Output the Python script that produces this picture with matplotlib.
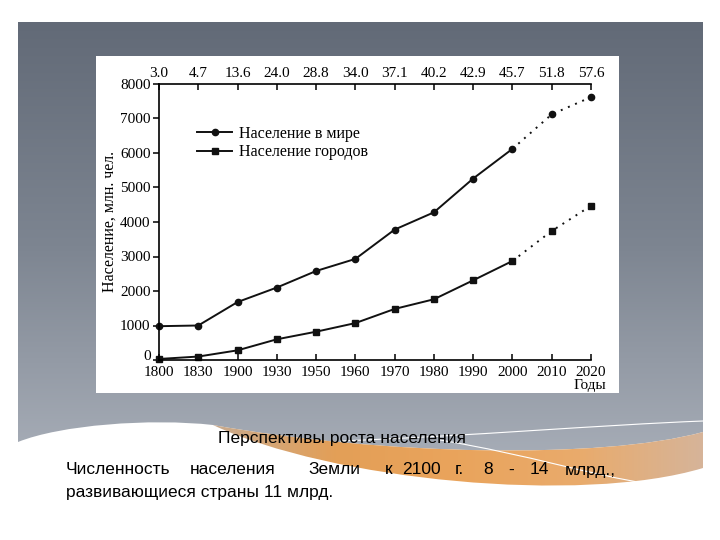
import numpy as np
import matplotlib.pyplot as plt
from matplotlib.patches import Rectangle, PathPatch
from matplotlib.path import Path
from matplotlib.colors import LinearSegmentedColormap

years = ['1800', '1830', '1900', '1930', '1950', '1960', '1970', '1980', '1990', '2000', '2010', '2020']
urban_share = ['3.0', '4.7', '13.6', '24.0', '28.8', '34.0', '37.1', '40.2', '42.9', '45.7', '51.8', '57.6']
world_pop = [980, 1000, 1680, 2100, 2580, 2930, 3780, 4280, 5260, 6120, 7120, 7620]
urban_pop = [30, 100, 280, 600, 820, 1070, 1480, 1760, 2310, 2870, 3740, 4470]
n_fact = 10  # 1800-2000 факт, дальше прогноз (пунктир)

serif = ['Liberation Serif', 'DejaVu Serif']
sans = ['Liberation Sans', 'DejaVu Sans']

fig = plt.figure(figsize=(7.2, 5.4), dpi=100)

# фон слайда (в пикселях)
bg = fig.add_axes([0, 0, 1, 1], zorder=0)
bg.set_xlim(0, 720)
bg.set_ylim(540, 0)
bg.axis('off')

M, C, L, Z = Path.MOVETO, Path.CURVE4, Path.LINETO, Path.CLOSEPOLY
grey_path = Path([(18, 22), (703, 22), (703, 432),
                  (600, 460), (380, 455), (213, 425),
                  (150, 418), (60, 425), (18, 442),
                  (18, 22)],
                 [M, L, L, C, C, C, C, C, C, Z])
grey_cmap = LinearSegmentedColormap.from_list('g', ['#626a77', '#7d8591', '#a9afb9'])
im = bg.imshow(np.linspace(0, 1, 256).reshape(-1, 1), cmap=grey_cmap,
               extent=[18, 703, 470, 22], aspect='auto', zorder=1)
gp = PathPatch(grey_path, fc='none', ec='none')
bg.add_patch(gp)
im.set_clip_path(gp)

orange_path = Path([(213, 425), (380, 455), (600, 460), (703, 432),
                    (703, 468), (580, 505), (330, 480), (213, 425), (213, 425)],
                   [M, C, C, C, L, C, C, C, Z])
orange_cmap = LinearSegmentedColormap.from_list(
    'o', ['#c9ab8f', '#e39f57', '#eaa45c', '#e9ab6c', '#d6b499'])
im2 = bg.imshow(np.linspace(0, 1, 256).reshape(1, -1), cmap=orange_cmap,
                extent=[213, 703, 505, 420], aspect='auto', zorder=2)
op = PathPatch(orange_path, fc='none', ec='none')
bg.add_patch(op)
im2.set_clip_path(op)

# тонкие белые линии на волне
bg.add_patch(PathPatch(Path([(340, 441), (470, 436), (600, 425), (703, 421)], [M, C, C, C]),
                       fc='none', ec='white', lw=0.8, zorder=3))
bg.add_patch(PathPatch(Path([(440, 440), (530, 455), (590, 475), (650, 484)], [M, C, C, C]),
                       fc='none', ec='white', lw=0.8, zorder=3))

bg.add_patch(Rectangle((96, 56), 523, 337, fc='white', ec='none', zorder=4))

bg.text(342, 438, 'Перспективы роста населения', family=sans, fontsize=12.5,
        ha='center', va='center', zorder=5)
words = ['Численность', 'населения', 'Земли', 'к', '2100', 'г.', '8', '-', '14', 'млрд.,']
word_x = [66, 190, 308, 385, 402, 455, 483, 508, 530, 565]
for w, wx in zip(words, word_x):
    bg.text(wx, 470, w, family=sans, fontsize=12.5, ha='left', va='center', zorder=5)
bg.text(66, 493, 'развивающиеся страны 11 млрд.', family=sans, fontsize=12.5,
        ha='left', va='center', zorder=5)

# график
ax = fig.add_axes([159 / 720, 1 - 360 / 540, 432 / 720, 276 / 540], zorder=2)
ax.patch.set_alpha(0)
x = np.arange(len(years))

ax.plot(x[:n_fact], world_pop[:n_fact], color='#111111', lw=1.4, marker='o', ms=4.5, clip_on=False)
ax.plot(x[n_fact - 1:], world_pop[n_fact - 1:], color='#111111', lw=1.4, ls=(0, (1, 3)),
        marker='o', ms=4.5, markevery=[1, 2], clip_on=False)
ax.plot(x[:n_fact], urban_pop[:n_fact], color='#111111', lw=1.4, marker='s', ms=5, clip_on=False)
ax.plot(x[n_fact - 1:], urban_pop[n_fact - 1:], color='#111111', lw=1.4, ls=(0, (1, 3)),
        marker='s', ms=5, markevery=[1, 2], clip_on=False)

h1, = ax.plot([], [], color='#111111', lw=1.4, marker='o', ms=4.5)
h2, = ax.plot([], [], color='#111111', lw=1.4, marker='s', ms=5)
ax.legend([h1, h2], ['Население в мире', 'Население городов'], loc='upper left',
          bbox_to_anchor=(0.055, 0.90), frameon=False, handlelength=2.2,
          labelspacing=0.15, handletextpad=0.4, prop={'family': serif, 'size': 11.5})

ax.set_xlim(0, 11)
ax.set_ylim(0, 8000)
ax.set_yticks(range(0, 8001, 1000))
ax.set_xticks(x, years)
ax.spines['right'].set_visible(False)
ax.spines['top'].set_visible(False)
for s in ['left', 'bottom']:
    ax.spines[s].set_linewidth(1.2)
ax.tick_params(axis='y', direction='out', length=4, width=1.1, pad=2, labelsize=11)
ax.tick_params(axis='x', direction='in', length=4, width=1.1, pad=4, labelsize=11)
for lab in ax.get_xticklabels() + ax.get_yticklabels():
    lab.set_family(serif)
ax.get_yticklabels()[0].set_va('baseline')  # "0" чуть выше, как в оригинале

sec = ax.secondary_xaxis('top')
sec.set_xticks(x, urban_share)
sec.spines['top'].set_linewidth(1.2)
sec.tick_params(direction='in', length=4, width=1.1, pad=3, labelsize=11)
for lab in sec.get_xticklabels():
    lab.set_family(serif)

ax.set_ylabel('Население, млн. чел.', family=serif, fontsize=11.5, labelpad=2)
bg.text(590, 386, 'Годы', family=serif, fontsize=11, ha='center', va='center', zorder=5)

fig.savefig('out.png', dpi=100)
